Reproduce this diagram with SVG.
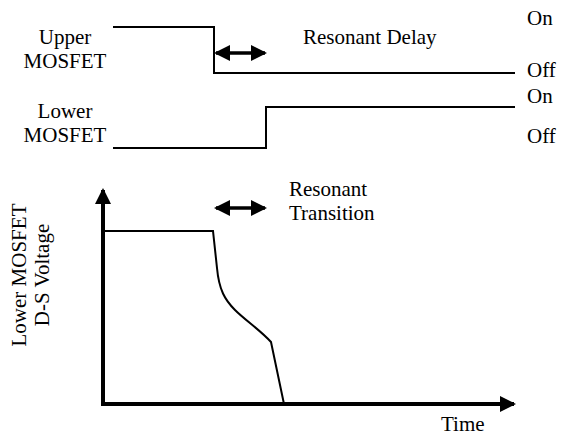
<svg xmlns="http://www.w3.org/2000/svg" width="574" height="435" viewBox="0 0 574 435">
<style>
text{font-family:"Liberation Serif","Times New Roman",Times,"DejaVu Serif",serif;font-size:21px;fill:#000}
.m{text-anchor:middle}
.sig{fill:none;stroke:#000;stroke-width:2}
.dbl{fill:none;stroke:#000;stroke-width:3.5}
.ax{fill:none;stroke:#000;stroke-width:4}
</style>
<defs>
<marker id="ah" viewBox="0 0 16 16" refX="14" refY="8" markerWidth="16" markerHeight="16" orient="auto-start-reverse" markerUnits="userSpaceOnUse">
<path d="M0,0 L16,8 L0,16 Z" fill="#000"/>
</marker>
</defs>
<rect width="574" height="435" fill="#fff"/>
<g id="labels">
<text class="m" x="65" y="44">Upper</text>
<text class="m" x="65" y="68">MOSFET</text>
<text class="m" x="65" y="118">Lower</text>
<text class="m" x="65" y="142">MOSFET</text>
<text x="303" y="44">Resonant Delay</text>
<text x="527" y="25">On</text>
<text x="527" y="77">Off</text>
<text x="527" y="103">On</text>
<text x="527" y="143">Off</text>
<text x="289" y="196">Resonant</text>
<text x="289" y="220">Transition</text>
<text x="441" y="431">Time</text>
<text class="m" transform="translate(26,275) rotate(-90)">Lower MOSFET</text>
<text class="m" transform="translate(49,275) rotate(-90)">D-S Voltage</text>
</g>
<g id="upper-signal">
<path class="sig" d="M113,27 H214 V73 H515"/>
</g>
<g id="lower-signal">
<path class="sig" d="M113,148 H266 V107 H515"/>
</g>
<g id="vds-waveform">
<path class="sig" d="M105,231 H213 L217,268 C219,290 225,300 235,310 C245,320 260,330 271,342 L284,404"/>
</g>
<g id="connectors">
<line class="dbl" x1="216" y1="53" x2="265" y2="53" marker-start="url(#ah)" marker-end="url(#ah)"/>
<line class="dbl" x1="216" y1="208" x2="265" y2="208" marker-start="url(#ah)" marker-end="url(#ah)"/>
<line class="ax" x1="103" y1="404" x2="103" y2="190" marker-end="url(#ah)"/>
<line class="ax" x1="101" y1="404" x2="514" y2="404" marker-end="url(#ah)"/>
</g>
</svg>
